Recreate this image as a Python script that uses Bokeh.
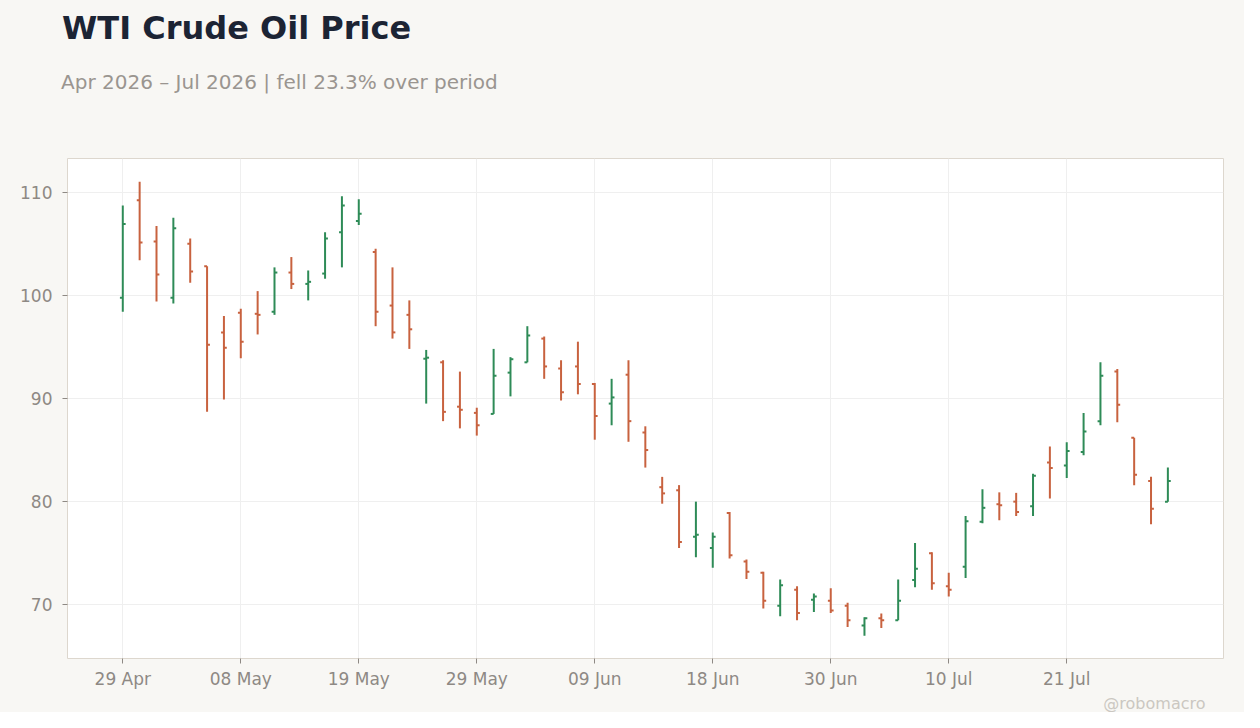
import pandas as pd
from bokeh.plotting import figure
from bokeh.layouts import column
from bokeh.embed import file_html
from bokeh.resources import INLINE
from bokeh.models import ColumnDataSource, Range1d, FixedTicker, Title, Div

# trading days, Apr - Jul 2026
dates = [
    "2026-04-29", "2026-04-30", "2026-05-01", "2026-05-04", "2026-05-05", "2026-05-06",
    "2026-05-07", "2026-05-08", "2026-05-11", "2026-05-12", "2026-05-13", "2026-05-14",
    "2026-05-15", "2026-05-18", "2026-05-19", "2026-05-20", "2026-05-21", "2026-05-22",
    "2026-05-26", "2026-05-27", "2026-05-28", "2026-05-29", "2026-06-01", "2026-06-02",
    "2026-06-03", "2026-06-04", "2026-06-05", "2026-06-08", "2026-06-09", "2026-06-10",
    "2026-06-11", "2026-06-12", "2026-06-15", "2026-06-16", "2026-06-17", "2026-06-18",
    "2026-06-22", "2026-06-23", "2026-06-24", "2026-06-25", "2026-06-26", "2026-06-29",
    "2026-06-30", "2026-07-01", "2026-07-02", "2026-07-06", "2026-07-07", "2026-07-08",
    "2026-07-09", "2026-07-10", "2026-07-13", "2026-07-14", "2026-07-15", "2026-07-16",
    "2026-07-17", "2026-07-20", "2026-07-21", "2026-07-22", "2026-07-23", "2026-07-24",
    "2026-07-27", "2026-07-28", "2026-07-29",
]
opens = [
    99.75, 109.2, 105.2, 99.75, 105.0, 102.8, 96.4, 98.3, 98.2, 98.4,
    102.2, 101.1, 102.1, 106.1, 107.2, 104.2, 99.0, 98.1, 93.85, 93.5,
    89.2, 88.6, 88.5, 92.5, 93.5, 95.8, 92.9, 93.1, 91.4, 89.5,
    92.3, 86.7, 81.4, 81.1, 76.6, 75.5, 78.9, 74.2, 73.1, 69.9,
    71.45, 70.5, 70.4, 69.9, 68.0, 68.7, 68.5, 72.4, 75.0, 71.8,
    73.7, 78.05, 79.75, 80.0, 79.55, 83.8, 83.5, 84.8, 87.8, 92.6,
    86.2, 82.0, 80.0,
]
highs = [
    108.7, 111.0, 106.7, 107.5, 105.5, 102.8, 98.0, 98.7, 100.4, 102.7,
    103.7, 102.4, 106.1, 109.6, 109.3, 104.5, 102.7, 99.5, 94.7, 93.7,
    92.6, 89.1, 94.8, 94.0, 97.0, 96.0, 93.7, 95.5, 91.5, 91.9,
    93.7, 87.3, 82.4, 81.6, 80.0, 77.0, 79.0, 74.4, 73.2, 72.45,
    71.8, 71.1, 71.6, 70.2, 68.8, 69.15, 72.45, 76.0, 75.1, 73.1,
    78.6, 81.2, 80.9, 80.85, 82.7, 85.35, 85.75, 88.6, 93.5, 92.85,
    86.2, 82.4, 83.3,
]
lows = [
    98.4, 103.4, 99.4, 99.2, 101.2, 88.7, 89.9, 93.9, 96.2, 98.1,
    100.6, 99.5, 101.6, 102.7, 106.8, 97.0, 95.8, 94.8, 89.5, 87.8,
    87.1, 86.4, 88.5, 90.2, 93.5, 91.9, 89.8, 90.4, 86.0, 87.4,
    85.8, 83.3, 79.8, 75.5, 74.6, 73.6, 74.5, 72.5, 69.65, 68.9,
    68.5, 69.3, 69.2, 67.85, 67.0, 67.75, 68.5, 71.7, 71.45, 70.8,
    72.6, 77.9, 78.2, 78.6, 78.6, 80.3, 82.3, 84.5, 87.4, 87.7,
    81.6, 77.8, 80.0,
]
closes = [
    106.9, 105.1, 102.0, 106.5, 102.3, 95.2, 94.9, 95.5, 98.1, 102.2,
    101.1, 101.3, 105.5, 108.7, 107.9, 98.4, 96.4, 96.7, 93.95, 88.7,
    88.9, 87.4, 92.2, 93.8, 96.1, 93.1, 90.6, 91.4, 88.3, 90.1,
    87.8, 85.0, 80.8, 76.1, 76.8, 76.6, 74.8, 73.2, 70.4, 71.9,
    69.2, 70.8, 69.45, 68.5, 68.7, 68.5, 70.4, 73.5, 72.1, 71.45,
    78.1, 79.4, 79.65, 79.0, 82.5, 83.25, 84.9, 86.8, 92.2, 89.4,
    82.6, 79.3, 82.0,
]
y_ticks = [70, 80, 90, 100, 110]

title_text = "WTI Crude Oil Price"
subtitle_text = "Apr 2026 \u2013 Jul 2026 | fell 23.3% over period"
credit_text = "@robomacro"

UP = "#2e8b57"
DOWN = "#c8623f"
BG = "#f8f7f4"
MUTED = "#8e8984"

df = pd.DataFrame({"date": pd.to_datetime(dates), "open": opens, "high": highs,
                   "low": lows, "close": closes})
df["i"] = range(len(df))
df["i_left"] = df["i"] - 0.17
df["i_right"] = df["i"] + 0.17
df["color"] = [UP if c >= o else DOWN for o, c in zip(df["open"], df["close"])]
source = ColumnDataSource(df)

header = Div(
    text=(
        "<div style=\"padding:10px 0 0 62px; font-family:'DejaVu Sans'; font-size:32px; "
        "font-weight:bold; line-height:37px; color:#1c2434; white-space:nowrap\">"
        f"{title_text}</div>"
        "<div style=\"margin-top:24px; padding-left:61px; font-family:'DejaVu Sans'; "
        "font-size:20px; line-height:23px; color:#9a9590; white-space:nowrap\">"
        f"{subtitle_text}</div>"
    ),
    width=1244, height=100, margin=(0, 0, 0, 0),
    styles={"background-color": BG},
)

p = figure(
    width=1244, height=612,
    x_range=Range1d(-3.28, 65.3),
    y_range=Range1d(64.8, 113.25),
    toolbar_location=None, tools="",
    output_backend="svg",
    background_fill_color="white",
    border_fill_color=BG,
    min_border_left=67, min_border_right=21,
    min_border_top=58, min_border_bottom=52,
)
p.outline_line_color = "#ddd7ce"
p.outline_line_width = 1

p.segment(x0="i", y0="low", x1="i", y1="high", line_color="color", line_width=2, source=source)
p.segment(x0="i_left", y0="open", x1="i", y1="open", line_color="color", line_width=2, source=source)
p.segment(x0="i", y0="close", x1="i_right", y1="close", line_color="color", line_width=2, source=source)

x_ticks = list(range(0, len(df), 7))
p.xaxis.ticker = FixedTicker(ticks=x_ticks)
p.xaxis.major_label_overrides = {i: df["date"][i].strftime("%d %b") for i in x_ticks}
p.yaxis.ticker = FixedTicker(ticks=y_ticks)

for ax in (p.xaxis, p.yaxis):
    ax.axis_line_color = None
    ax.major_tick_line_color = MUTED
    ax.major_tick_out = 5
    ax.major_tick_in = 0
    ax.minor_tick_line_color = None
    ax.major_label_text_color = MUTED
    ax.major_label_text_font = "DejaVu Sans"
    ax.major_label_text_font_size = "17px"
p.xaxis.major_label_standoff = 5
p.yaxis.major_label_standoff = 10

p.grid.grid_line_color = "#efefef"
p.grid.grid_line_width = 1

p.add_layout(Title(text=credit_text, align="right", offset=18, standoff=0,
                   text_font="DejaVu Sans", text_font_size="16px",
                   text_font_style="normal", text_color="#cbc7c1"), "below")

layout = column(header, p, spacing=0, styles={"background-color": BG})

open("out.html", "w").write(file_html(layout, INLINE))
